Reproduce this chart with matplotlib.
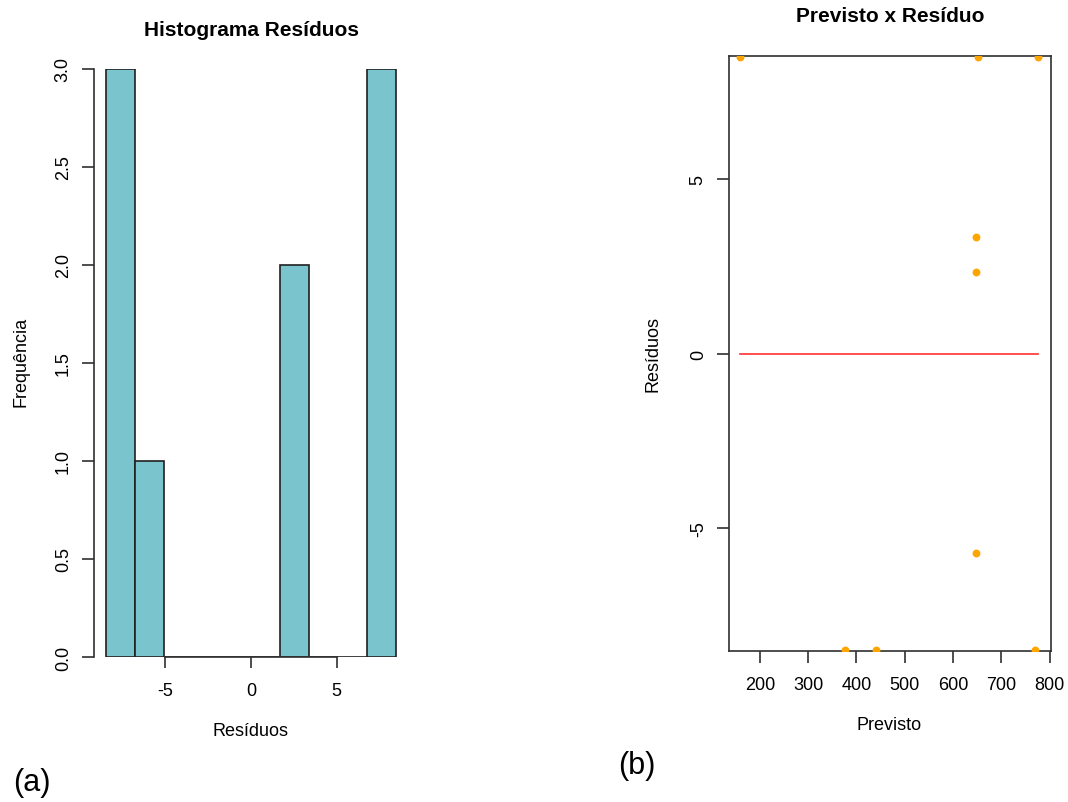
import numpy as np
import matplotlib
matplotlib.use("Agg")
import matplotlib.pyplot as plt

plt.rcParams['font.family'] = ['Liberation Sans', 'DejaVu Sans']

# Data
previsto = [159, 651, 776, 647, 647, 647, 376, 441, 770]
residuos = [8.5, 8.5, 8.5, 3.34, 2.34, -5.73, -8.5, -8.5, -8.5]
breaks = [-8.5, -6.8, -5.1, -3.4, -1.7, 0.0, 1.7, 3.4, 5.1, 6.8, 8.5]
hist_yticks = [0.0, 0.5, 1.0, 1.5, 2.0, 2.5, 3.0]
hist_xticks = [-5, 0, 5]
scat_xticks = [200, 300, 400, 500, 600, 700, 800]
scat_yticks = [-5, 0, 5]

W, H = 1068, 803
fig = plt.figure(figsize=(W / 100, H / 100), dpi=100)


def box(x0, y0, x1, y1):
    # pixel box (top-left origin) -> figure fraction rect
    return [x0 / W, 1 - y1 / H, (x1 - x0) / W, (y1 - y0) / H]


def ftext(x, y, s, **kw):
    fig.text(x / W, 1 - y / H, s, ha=kw.pop('ha', 'center'),
             va=kw.pop('va', 'center'), **kw)


line_c = '#303030'
fs = 13

# (a) histogram
ax1 = fig.add_axes(box(94, 70, 408, 658))
ax1.hist(residuos, bins=breaks, color='#7AC5CD', edgecolor='#202020',
         linewidth=1.2)
ax1.set_xlim(-9.18, 9.18)
ax1.set_ylim(0, 3)
for s in ['top', 'right']:
    ax1.spines[s].set_visible(False)
ax1.spines['bottom'].set_bounds(-5, 5)
ax1.spines['left'].set_bounds(0, 3)
for s in ['bottom', 'left']:
    ax1.spines[s].set_color(line_c)
    ax1.spines[s].set_linewidth(1.2)
ax1.set_xticks(hist_xticks)
ax1.set_xticklabels([str(t) for t in hist_xticks], fontsize=fs)
ax1.set_yticks(hist_yticks)
ax1.set_yticklabels([f"{t:.1f}" for t in hist_yticks], fontsize=fs,
                    rotation=90, va='center')
ax1.tick_params(axis='x', length=8, width=1.2, color=line_c, pad=10)
ax1.tick_params(axis='y', length=8.5, width=1.2, color=line_c, pad=7.5)

ftext(251, 30, 'Histograma Resíduos', fontsize=15, fontweight='bold')
ftext(251, 732, 'Resíduos', fontsize=fs)
ftext(21, 362, 'Frequência', fontsize=fs, rotation=90)
ftext(13, 783, '(a)', fontsize=22, ha='left')

# (b) predicted vs residual
ax2 = fig.add_axes(box(729, 57, 1051, 652))
ax2.scatter(previsto, residuos, s=32, color='#FFA500', zorder=3,
            clip_on=True, linewidths=0)
ax2.plot([min(previsto), max(previsto)], [0, 0], color='#FF3030', lw=1.2)
ax2.set_xlim(136, 803)
ax2.set_ylim(-8.54, 8.54)
for s in ax2.spines.values():
    s.set_color(line_c)
    s.set_linewidth(1.2)
ax2.set_xticks(scat_xticks)
ax2.set_xticklabels([str(t) for t in scat_xticks], fontsize=fs)
ax2.set_yticks(scat_yticks)
ax2.set_yticklabels([str(t) for t in scat_yticks], fontsize=fs,
                    rotation=90, va='center')
ax2.tick_params(axis='x', length=8.5, width=1.2, color=line_c, pad=9.5)
ax2.tick_params(axis='y', length=8.5, width=1.2, color=line_c, pad=7.5)

ftext(890, 17, 'Previsto x Resíduo', fontsize=15, fontweight='bold')
ftext(889, 726, 'Previsto', fontsize=fs)
ftext(653, 354, 'Resíduos', fontsize=fs, rotation=90)
ftext(618, 766, '(b)', fontsize=22, ha='left')

fig.savefig('out.png', dpi=100)
